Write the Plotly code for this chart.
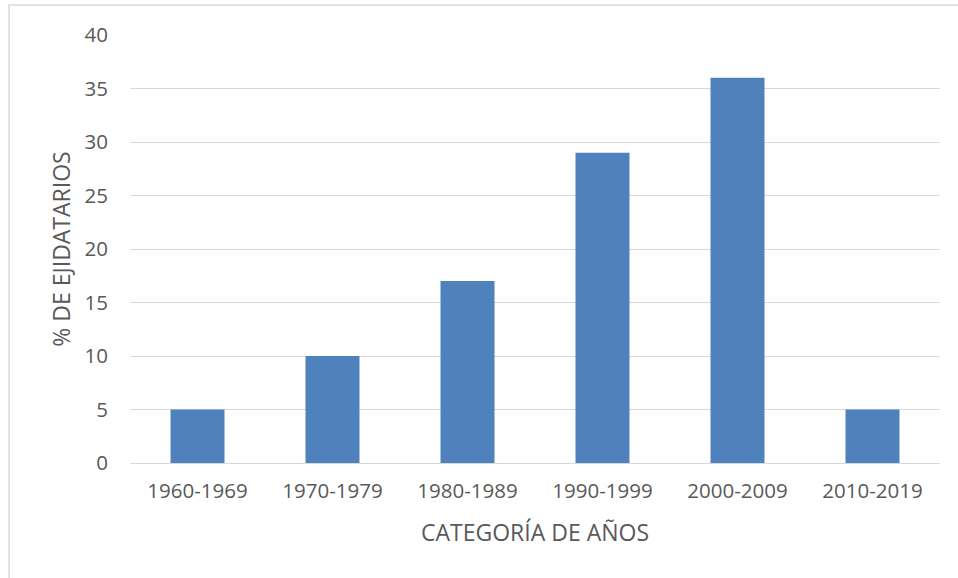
import plotly.graph_objects as go

# Data
categories = ["1960-1969", "1970-1979", "1980-1989", "1990-1999", "2000-2009", "2010-2019"]
percentages = [5, 10, 17, 29, 36, 5]
y_ticks = [0, 5, 10, 15, 20, 25, 30, 35, 40]

W, H = 958, 578
L, R, T, B = 130, 18, 35, 115
plot_w = W - L - R
plot_h = H - T - B

text_color = "#595959"
font_family = "Open Sans, Noto Sans, sans-serif"

fig = go.Figure(
    go.Bar(
        x=categories,
        y=percentages,
        marker=dict(color="#4F81BD", line=dict(width=0)),
        hoverinfo="x+y",
    )
)

# outer chart frame, in paper coordinates
fx0 = (9 - L) / plot_w
fy1 = (H - B - 5) / plot_h

fig.update_layout(
    width=W,
    height=H,
    margin=dict(l=L, r=R, t=T, b=B),
    paper_bgcolor="white",
    plot_bgcolor="white",
    bargap=0.6,
    showlegend=False,
    font=dict(family=font_family, size=20, color=text_color),
    xaxis=dict(
        showline=True,
        linecolor="#d9d9d9",
        linewidth=1,
        ticks="",
        showgrid=False,
        ticklabelstandoff=9,
        tickfont=dict(size=20.5, color=text_color),
        title=dict(text="CATEGORÍA DE AÑOS", font=dict(size=23, color=text_color), standoff=22),
    ),
    yaxis=dict(
        range=[0, 40],
        tickvals=y_ticks,
        showgrid=True,
        gridcolor="#d9d9d9",
        gridwidth=1,
        zeroline=False,
        showline=False,
        ticks="",
        ticklabelstandoff=21,
        tickfont=dict(size=20.5, color=text_color),
        title=dict(text="% DE EJIDATARIOS", font=dict(size=23, color=text_color), standoff=7),
    ),
    shapes=[
        dict(
            type="rect",
            xref="paper",
            yref="paper",
            x0=fx0,
            x1=1.2,
            y0=-0.5,
            y1=fy1,
            line=dict(color="#d9d9d9", width=1.5),
            fillcolor="rgba(0,0,0,0)",
            layer="below",
        )
    ],
)

fig.write_html("out.html")
